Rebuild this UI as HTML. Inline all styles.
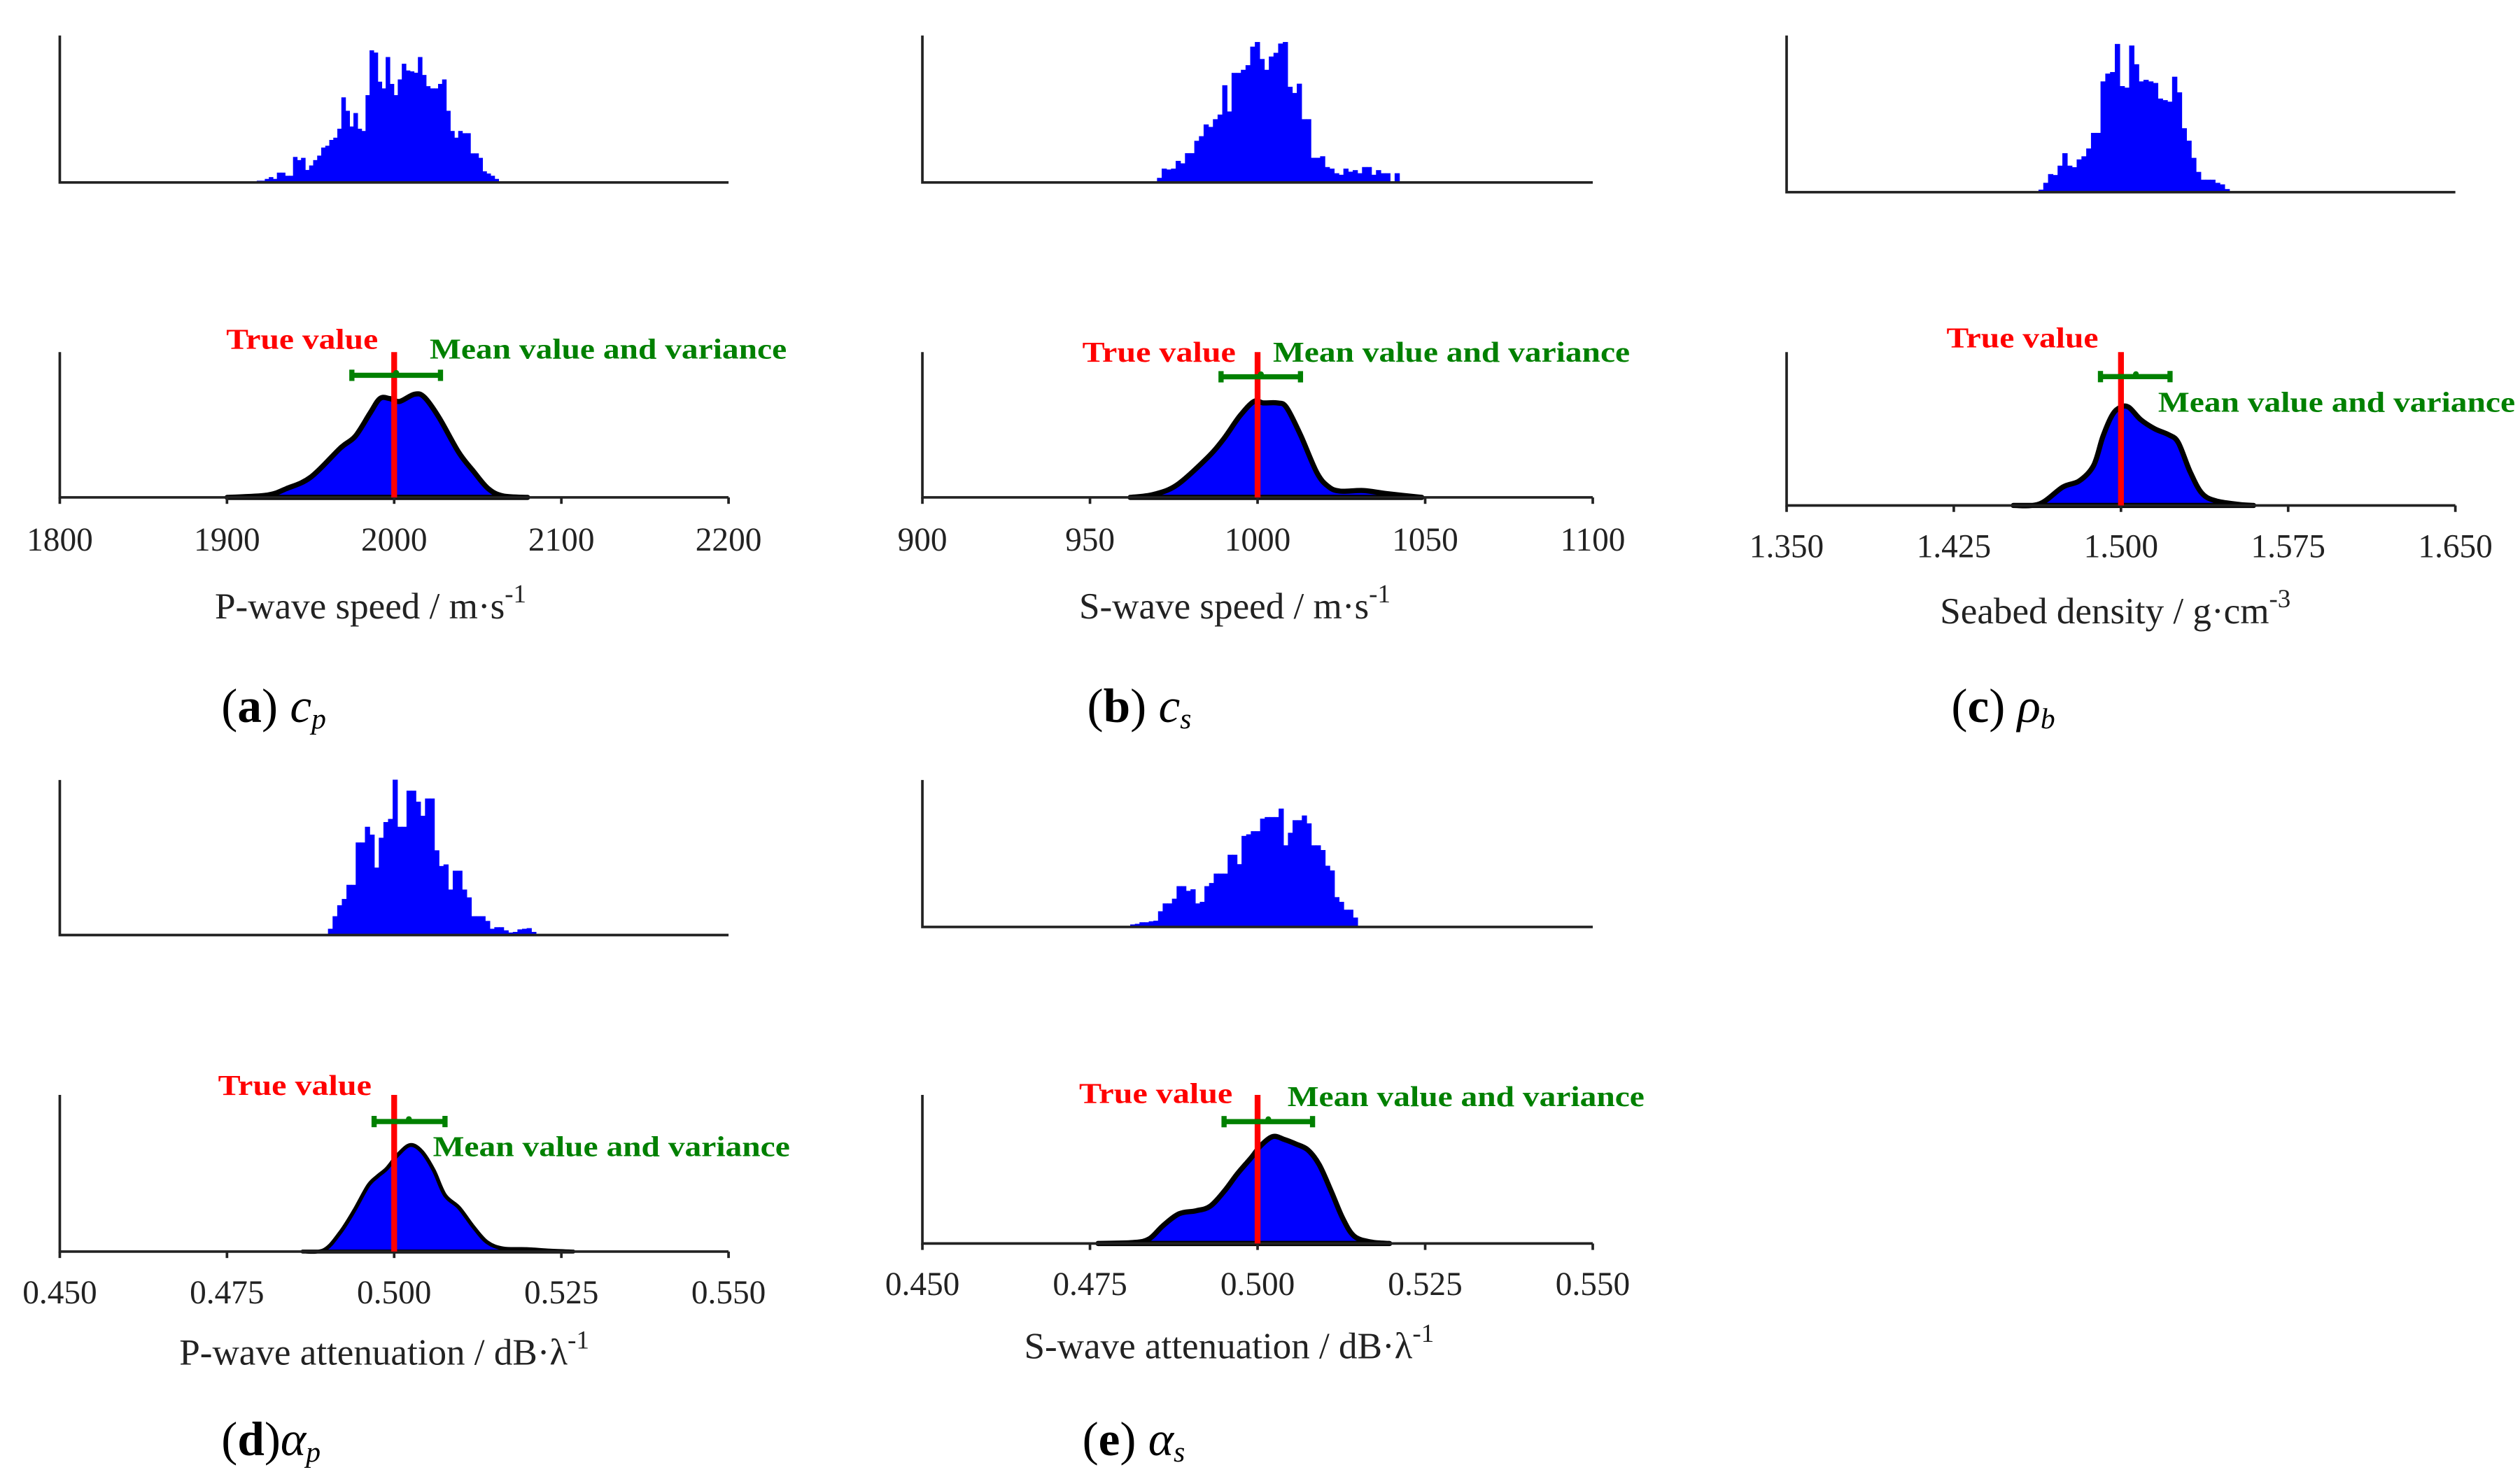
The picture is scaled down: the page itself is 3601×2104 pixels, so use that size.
<!DOCTYPE html>
<html><head><meta charset="utf-8"><title>Posterior distributions</title>
<style>
html,body{margin:0;padding:0;background:#fff;}
svg{display:block;}
text{font-family:"Liberation Serif",serif;}
</style></head>
<body>
<svg id="fig" xmlns="http://www.w3.org/2000/svg" width="3601" height="2104" viewBox="0 0 1560 911.5"></svg>
<script>
// ---------- Panel (a) P-wave speed ----------
const histStartA = 1917.8;
const histWidthA = 2.41;
const histCountsA = [4,4,8,12,8,22,22,15,15,57,50,55,28,38,50,60,78,82,95,100,120,190,160,125,155,120,115,195,295,290,225,210,280,220,195,230,265,250,248,245,280,240,215,210,210,220,230,160,115,100,115,110,110,65,65,55,25,20,15,8];
const histMaxA = 328;
const kdeXA = [1900.1,1923.7,1935.5,1950.2,1967.9,1976.7,1985.6,1991.5,1997.3,2003.2,2012.1,2018.0,2026.8,2038.6,2047.4,2056.3,2065.1,2079.8];
const kdeYA = [0,.015,.06,.14,.34,.42,.58,.68,.68,.66,.71,.69,.55,.31,.18,.06,.01,0];
const trueA = 2000;
const meanA = 2001.2;
const errLoA = 1974.7;
const errHiA = 2027.7;
const ticksA = [1800,1900,2000,2100,2200];
const tickLabelsA = ["1800","1900","2000","2100","2200"];

// ---------- Panel (b) S-wave speed ----------
const histStartB = 970.0;
const histWidthB = 1.39;
const histCountsB = [15,45,42,45,70,62,95,95,135,150,188,180,205,220,315,230,355,355,365,380,440,455,400,365,408,420,450,455,310,290,320,205,205,80,80,85,50,45,30,25,45,35,40,30,50,50,25,40,30,30,0,30];
const histMaxB = 476;
const kdeXB = [962.0,968.9,975.9,984.9,989.8,994.7,998.9,1001.7,1005.8,1008.6,1012.8,1017.7,1021.1,1024.6,1031.6,1038.5,1049.0];
const kdeYB = [0,.02,.085,.27,.40,.56,.66,.65,.65,.62,.43,.17,.075,.043,.047,.026,0];
const trueB = 1000;
const meanB = 1001.0;
const errLoB = 989.1;
const errHiB = 1012.8;
const ticksB = [900,950,1000,1050,1100];
const tickLabelsB = ["900","950","1000","1050","1100"];

// ---------- Panel (c) Seabed density ----------
const histStartC = 1.463;
const histWidthC = 0.00214;
const histCountsC = [8,30,58,55,85,125,85,80,105,115,140,190,190,355,380,385,475,340,335,470,410,355,360,355,350,300,295,290,370,320,205,165,110,65,40,40,40,30,25,10];
const histMaxC = 502;
const kdeXC = [1.4517,1.4634,1.4739,1.4813,1.4877,1.4919,1.4961,1.4998,1.5035,1.5088,1.5151,1.5215,1.5257,1.5310,1.5363,1.5426,1.5532,1.5595];
const kdeYC = [0,.01,.12,.16,.26,.45,.59,.64,.64,.56,.50,.46,.41,.22,.08,.03,.006,0];
const trueC = 1.5;
const meanC = 1.5067;
const errLoC = 1.4908;
const errHiC = 1.5220;
const ticksC = [1.350,1.425,1.500,1.575,1.650];
const tickLabelsC = ["1.350","1.425","1.500","1.575","1.650"];

// ---------- Panel (d) P-wave attenuation ----------
const histStartD = 0.4901;
const histWidthD = 0.000691;
const histCountsD = [20,60,95,115,160,160,295,295,345,320,215,310,360,370,495,345,345,460,460,425,380,435,435,270,220,225,145,205,205,145,120,60,60,60,45,20,25,25,15,8,10,18,20,22,10];
const histMaxD = 494;
const kdeXD = [0.4863,0.4895,0.4919,0.4940,0.4961,0.4975,0.4989,0.5006,0.5024,0.5041,0.5059,0.5076,0.5097,0.5118,0.5139,0.5163,0.5198,0.5233,0.5268];
const kdeYD = [0,.01,.12,.26,.42,.48,.53,.62,.68,.64,.52,.36,.28,.16,.06,.02,.016,.006,0];
const trueD = 0.5;
const meanD = 0.5022;
const errLoD = 0.4970;
const errHiD = 0.5076;
const ticksD = [0.450,0.475,0.500,0.525,0.550];
const tickLabelsD = ["0.450","0.475","0.500","0.525","0.550"];

// ---------- Panel (e) S-wave attenuation ----------
const histStartE = 0.4810;
const histWidthE = 0.000692;
const histCountsE = [8,10,15,15,18,20,50,75,75,90,130,130,115,120,75,80,130,140,170,170,170,230,230,200,290,295,305,305,345,350,350,350,377,260,300,340,340,355,330,260,260,245,195,180,95,80,55,55,30];
const histMaxE = 468;
const kdeXE = [0.4762,0.4814,0.4838,0.4859,0.4883,0.4908,0.4929,0.4950,0.4970,0.4991,0.5005,0.5023,0.5040,0.5057,0.5075,0.5092,0.5110,0.5127,0.5144,0.5169,0.5197];
const kdeYE = [0,.006,.03,.12,.2,.22,.25,.35,.47,.58,.66,.72,.70,.67,.63,.53,.35,.17,.05,.01,0];
const trueE = 0.5;
const meanE = 0.5016;
const errLoE = 0.4950;
const errHiE = 0.5082;
const ticksE = [0.450,0.475,0.500,0.525,0.550];
const tickLabelsE = ["0.450","0.475","0.500","0.525","0.550"];

const NS = "http://www.w3.org/2000/svg";
const svg = document.getElementById('fig');
function mk(tag, attrs, parent){
  const e = document.createElementNS(NS, tag);
  for (const k in attrs) e.setAttribute(k, attrs[k]);
  (parent||svg).appendChild(e);
  return e;
}
function smoothPath(pts){
  let d = "M"+pts[0][0]+","+pts[0][1];
  for (let i=0;i<pts.length-1;i++){
    const p0=pts[Math.max(0,i-1)], p1=pts[i], p2=pts[i+1], p3=pts[Math.min(pts.length-1,i+2)];
    const c1x=p1[0]+(p2[0]-p0[0])/6, c1y=p1[1]+(p2[1]-p0[1])/6;
    const c2x=p2[0]-(p3[0]-p1[0])/6, c2y=p2[1]-(p3[1]-p1[1])/6;
    d += " C"+c1x+","+c1y+" "+c2x+","+c2y+" "+p2[0]+","+p2[1];
  }
  return d;
}

function drawPanel(L, D){
  const g = mk('g', {});
  
  
  const sx = v => L.x0 + (v - D.dmin)/(D.dmax - D.dmin)*(L.x1 - L.x0);
  const hy = c => L.hBase - c/D.hMax*(L.hBase - L.hTop);
  const ky = f => L.kBase - f*(L.kBase - L.kTop);

  const hg = mk('g', {}, g);
  
  
  D.counts.forEach((c,i)=>{
    const xa = sx(D.hStart + i*D.hWidth), xb = sx(D.hStart + (i+1)*D.hWidth);
    const r = mk('rect', {x:xa, y:hy(c), width:(xb-xa)+0.3, height:L.hBase-hy(c), fill:'#0000ff'}, hg);
    
    
  });
  const ha = mk('path', {d:`M${L.x0},${L.hTop} V${L.hBase} H${L.x1}`, fill:'none', stroke:'#222', 'stroke-width':1.6}, g);
  
  

  const pts = D.kx.map((v,i)=>[sx(v), ky(D.ky[i])]);
  const dLine = smoothPath(pts);
  const kf = mk('path', {d: dLine + ` L${pts[pts.length-1][0]},${L.kBase} L${pts[0][0]},${L.kBase} Z`, fill:'#0000ff', stroke:'#000', 'stroke-width':L.kw, 'stroke-linejoin':'round'}, g);
  
  

  const ka = mk('path', {d:`M${L.x0},${L.kTop} V${L.kBase} H${L.x1}`, fill:'none', stroke:'#222', 'stroke-width':1.6}, g);
  
  
  D.ticks.forEach((t,i)=>{
    const x = sx(t);
    const tk = mk('line', {x1:x, x2:x, y1:L.kBase, y2:L.kBase+4, stroke:'#222', 'stroke-width':1.6}, g);
    
    
    const tl = mk('text', {x:x, y:L.tickY, 'font-size':20.5, 'text-anchor':'middle', fill:'#222'}, g);
    tl.textContent = D.tickLabels[i];
    
    
  });

  const tv = mk('line', {x1:sx(D.trueV), x2:sx(D.trueV), y1:L.kBase, y2:L.kTop, stroke:'#ff0000', 'stroke-width':3.6}, g);
  
  

  const ey = ky(L.errF);
  const eg = mk('g', {stroke:'#008000', 'stroke-width':3.2, fill:'#008000'}, g);
  
  
  mk('line', {x1:sx(D.lo), x2:sx(D.hi), y1:ey, y2:ey}, eg);
  mk('line', {x1:sx(D.lo), x2:sx(D.lo), y1:ey-3.5, y2:ey+3.5}, eg);
  mk('line', {x1:sx(D.hi), x2:sx(D.hi), y1:ey-3.5, y2:ey+3.5}, eg);
  mk('circle', {cx:sx(D.mean), cy:ey-1.5, r:1.8, stroke:'none'}, eg);

  const t1 = mk('text', {x:L.tvX, y:L.tvY, 'font-size':18, 'font-weight':'bold', fill:'#ff0000', textLength:L.tvW, lengthAdjust:'spacingAndGlyphs'}, g);
  t1.textContent = 'True value';
  
  
  const t2 = mk('text', {x:L.mvX, y:L.mvY, 'font-size':18, 'font-weight':'bold', fill:'#008000', textLength:221, lengthAdjust:'spacingAndGlyphs'}, g);
  t2.textContent = 'Mean value and variance';
  
  

  const xt = mk('text', {x:L.xlX, y:L.xlY, 'font-size':23, fill:'#222'}, g);
  
  
  const s1 = mk('tspan', {}, xt); s1.textContent = L.xlabel;
  const s2 = mk('tspan', {dy:-10, 'font-size':16}, xt); s2.textContent = L.sup;

  const cp = mk('text', {x:L.capX, y:L.capY, 'font-size':30, fill:'#000'}, g);
  
  
  const c1 = mk('tspan', {}, cp); c1.textContent = '(';
  const c2 = mk('tspan', {'font-weight':'bold'}, cp); c2.textContent = L.letter;
  const c3 = mk('tspan', {}, cp); c3.textContent = ')' + L.gap;
  const c4 = mk('tspan', {'font-style':'italic'}, cp); c4.textContent = L.sym;
  const c5 = mk('tspan', {'font-style':'italic', 'font-size':18, dy:4}, cp); c5.textContent = L.sub;
}

drawPanel(
  {id:'a', x0:37, x1:451, hTop:22, hBase:113, kTop:218, kBase:308, kw:3.2, tickY:341, errF:0.84,
   tvX:140, tvY:216, tvW:94, mvX:266, mvY:222, xlX:133, xlY:383, xlabel:'P-wave speed / m·s', sup:'-1',
   capX:137, capY:447, letter:'a', gap:' ', sym:'c', sub:'p'},
  {dmin:1800, dmax:2200, hStart:histStartA, hWidth:histWidthA, counts:histCountsA, hMax:histMaxA,
   kx:kdeXA, ky:kdeYA, trueV:trueA, mean:meanA, lo:errLoA, hi:errHiA, ticks:ticksA, tickLabels:tickLabelsA});
drawPanel(
  {id:'b', x0:571, x1:986, hTop:22, hBase:113, kTop:218, kBase:308, kw:3.2, tickY:341, errF:0.83,
   tvX:670, tvY:224, tvW:95, mvX:788, mvY:224, xlX:668, xlY:383, xlabel:'S-wave speed / m·s', sup:'-1',
   capX:673, capY:447, letter:'b', gap:' ', sym:'c', sub:'s'},
  {dmin:900, dmax:1100, hStart:histStartB, hWidth:histWidthB, counts:histCountsB, hMax:histMaxB,
   kx:kdeXB, ky:kdeYB, trueV:trueB, mean:meanB, lo:errLoB, hi:errHiB, ticks:ticksB, tickLabels:tickLabelsB});
drawPanel(
  {id:'c', x0:1106, x1:1520, hTop:22, hBase:119, kTop:218, kBase:313, kw:3.2, tickY:345, errF:0.84,
   tvX:1205, tvY:215, tvW:94, mvX:1336, mvY:255, xlX:1201, xlY:386, xlabel:'Seabed density / g·cm', sup:'-3',
   capX:1208, capY:447, letter:'c', gap:' ', sym:'ρ', sub:'b'},
  {dmin:1.35, dmax:1.65, hStart:histStartC, hWidth:histWidthC, counts:histCountsC, hMax:histMaxC,
   kx:kdeXC, ky:kdeYC, trueV:trueC, mean:meanC, lo:errLoC, hi:errHiC, ticks:ticksC, tickLabels:tickLabelsC});
drawPanel(
  {id:'d', x0:37, x1:451, hTop:483, hBase:579, kTop:678, kBase:775, kw:2.4, tickY:807, errF:0.83,
   tvX:135, tvY:678, tvW:95, mvX:268, mvY:716, xlX:111, xlY:845, xlabel:'P-wave attenuation / dB·λ', sup:'-1',
   capX:137, capY:901, letter:'d', gap:'', sym:'α', sub:'p'},
  {dmin:0.45, dmax:0.55, hStart:histStartD, hWidth:histWidthD, counts:histCountsD, hMax:histMaxD,
   kx:kdeXD, ky:kdeYD, trueV:trueD, mean:meanD, lo:errLoD, hi:errHiD, ticks:ticksD, tickLabels:tickLabelsD});
drawPanel(
  {id:'e', x0:571, x1:986, hTop:483, hBase:574, kTop:678, kBase:770, kw:3.2, tickY:802, errF:0.82,
   tvX:668, tvY:683, tvW:95, mvX:797, mvY:685, xlX:634, xlY:841, xlabel:'S-wave attenuation / dB·λ', sup:'-1',
   capX:670, capY:901, letter:'e', gap:' ', sym:'α', sub:'s'},
  {dmin:0.45, dmax:0.55, hStart:histStartE, hWidth:histWidthE, counts:histCountsE, hMax:histMaxE,
   kx:kdeXE, ky:kdeYE, trueV:trueE, mean:meanE, lo:errLoE, hi:errHiE, ticks:ticksE, tickLabels:tickLabelsE});
</script>
</body></html>
